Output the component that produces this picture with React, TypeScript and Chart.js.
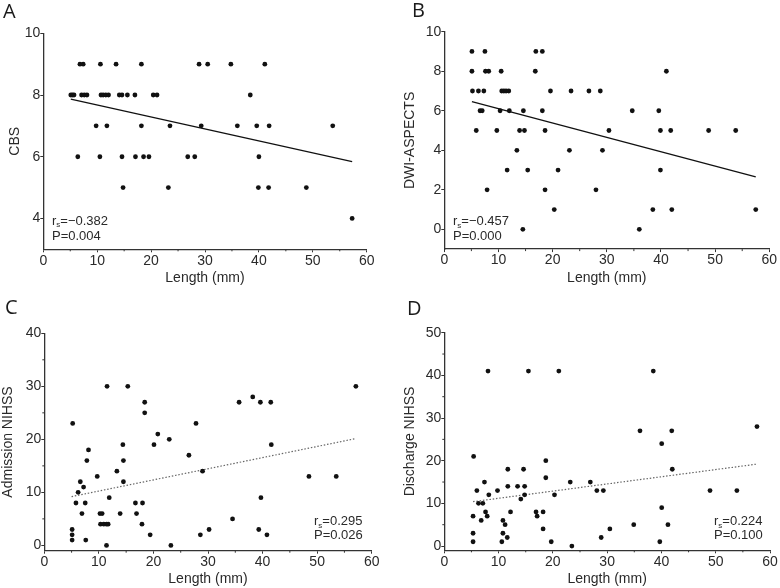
import React, { useEffect, useRef } from "react";
import { Chart, registerables } from "chart.js";

Chart.register(...registerables);

// ---------- shared axis values ----------
const xTickValues = [0, 10, 20, 30, 40, 50, 60];
const xMinorValues = [5, 15, 25, 35, 45, 55];

// ---------- Panel A: CBS ----------
const aLength = [
  6.8, 7.4, 10.6, 13.5, 18.2, 28.9, 30.5, 34.8, 41.1,
  5.1, 5.4, 5.7, 7.1, 7.6, 8.1, 10.7, 11.1, 11.6, 12.1, 14.1, 14.6, 15.6, 17.0, 20.4, 21.1, 38.4,
  9.8, 11.8, 18.2, 23.5, 29.3, 36.0, 39.6, 41.9, 53.7,
  6.4, 10.5, 14.6, 17.1, 18.6, 19.6, 26.8, 28.1, 40.0,
  14.8, 23.2, 39.9, 41.8, 48.8,
  57.3,
];
const aCBS = [
  9, 9, 9, 9, 9, 9, 9, 9, 9,
  8, 8, 8, 8, 8, 8, 8, 8, 8, 8, 8, 8, 8, 8, 8, 8, 8,
  7, 7, 7, 7, 7, 7, 7, 7, 7,
  6, 6, 6, 6, 6, 6, 6, 6, 6,
  5, 5, 5, 5, 5,
  4,
];
const aTrendX = [5.1, 57.3];
const aTrendY = [7.87, 5.84];
const aYTicks = [4, 6, 8, 10];

// ---------- Panel B: DWI-ASPECTS ----------
const bLength = [
  5.1, 7.5, 16.9, 18.1,
  5.1, 7.6, 8.2, 10.5, 16.8, 41.0,
  5.2, 6.3, 7.3, 10.6, 11.0, 11.4, 11.9, 19.6, 23.4, 26.7, 28.8,
  6.6, 7.0, 10.3, 12.0, 14.6, 18.1, 34.7, 39.6,
  5.9, 9.7, 13.9, 14.8, 18.6, 30.4, 39.9, 41.8, 48.8, 53.8,
  13.4, 23.1, 29.2,
  11.6, 15.4, 21.0, 39.9,
  7.9, 18.6, 28.0,
  20.3, 38.5, 42.0, 57.5,
  14.5, 36.0,
];
const bASPECTS = [
  9, 9, 9, 9,
  8, 8, 8, 8, 8, 8,
  7, 7, 7, 7, 7, 7, 7, 7, 7, 7, 7,
  6, 6, 6, 6, 6, 6, 6, 6,
  5, 5, 5, 5, 5, 5, 5, 5, 5, 5,
  4, 4, 4,
  3, 3, 3, 3,
  2, 2, 2,
  1, 1, 1, 1,
  0, 0,
];
const bTrendX = [5.1, 57.5];
const bTrendY = [6.46, 2.66];
const bYTicks = [0, 2, 4, 6, 8, 10];

// ---------- Panel C: Admission NIHSS ----------
const cLength = [
  11.5, 15.3, 18.4, 18.4, 5.2, 20.8, 20.1, 14.4, 8.1, 7.8, 14.5, 13.3, 9.7,
  6.6, 14.5, 7.2, 6.2, 11.9, 5.8, 7.5, 16.7, 18.0, 6.9, 10.2, 10.6, 13.9,
  16.9, 10.3, 10.9, 11.4, 11.7, 17.9, 5.1, 5.1, 19.4, 5.1, 7.6, 11.4,
  57.1, 38.2, 35.7, 39.6, 41.5, 27.8, 22.9, 41.6, 26.5, 29.0, 48.5, 53.5,
  39.7, 34.5, 30.2, 39.3, 28.6, 40.8, 23.2,
];
const cNIHSS = [
  30, 30, 27, 25, 23, 21, 19, 19, 18, 16, 16, 14, 13,
  12, 12, 11, 10, 9, 8, 8, 8, 8, 6, 6, 6, 6,
  6, 4, 4, 4, 4, 4, 3, 2, 2, 1, 1, 0,
  30, 28, 27, 27, 27, 23, 20, 19, 17, 14, 13, 13,
  9, 5, 3, 3, 2, 2, 0,
];
const cTrendX = [5.0, 57.1];
const cTrendY = [9.2, 20.15];
const cYTicks = [0, 10, 20, 30, 40];
const cYMinor = [5, 15, 25, 35];

// ---------- Panel D: Discharge NIHSS ----------
const dLength = [
  8.05, 15.5, 21.1, 5.4, 18.7, 11.7, 14.6, 18.7, 7.4, 11.7, 13.5, 14.8,
  6.0, 9.8, 8.2, 14.8, 20.3, 14.1, 6.3, 7.1, 7.6, 12.2, 16.9, 18.2, 5.3,
  7.9, 17.1, 6.8, 10.8, 11.2, 18.2, 5.3, 10.8, 11.6, 5.3, 10.6, 19.7,
  38.5, 57.6, 36.05, 41.9, 40.05, 42.0, 23.2, 26.9, 28.1, 29.3, 48.95, 53.9,
  40.05, 34.9, 41.2, 30.5, 28.9, 39.7, 23.5,
];
const dNIHSS = [
  41, 41, 41, 21, 20, 18, 18, 16, 15, 14, 14, 14,
  13, 13, 12, 12, 12, 11, 10, 10, 8, 8, 8, 8, 7,
  7, 7, 6, 6, 5, 4, 3, 3, 2, 1, 1, 1,
  41, 28, 27, 27, 24, 18, 15, 15, 13, 13, 13, 13,
  9, 5, 5, 4, 2, 1, 0,
];
const dTrendX = [5.3, 57.6];
const dTrendY = [10.4, 19.2];
const dYTicks = [0, 10, 20, 30, 40, 50];
const dYMinor = [5, 15, 25, 35, 45];

// ---------- styling ----------
const FONT = '"Liberation Sans", Arial, sans-serif';
const AXIS_COLOR = "#333";
const TEXT_COLOR = "#2a2a2a";
const DOT_COLOR = "#111";

type Panel = {
  key: string;
  letter: string;
  letterX: number;
  letterY: number;
  xs: number[];
  ys: number[];
  trendX: number[];
  trendY: number[];
  dotted: boolean;
  yMin: number;
  yMax: number;
  yTicks: number[];
  yMinor: number[];
  yTitle: string;
  yTitlePad: number;
  xTitlePad: number;
  left: number;
  top: number;
  width: number;
  height: number;
  area: { left: number; right: number; top: number; bottom: number };
  rs: string;
  p: string;
  noteX: number;
  noteY1: number;
  noteY2: number;
};

const panels: Panel[] = [
  {
    key: "A", letter: "A", letterX: 3, letterY: 18,
    xs: aLength, ys: aCBS, trendX: aTrendX, trendY: aTrendY, dotted: false,
    yMin: 3, yMax: 10, yTicks: aYTicks, yMinor: [], yTitle: "CBS",
    yTitlePad: 6.6, xTitlePad: 3.3,
    left: 0, top: 0, width: 390, height: 290,
    area: { left: 43.3, right: 366.7, top: 33.3, bottom: 249.3 },
    rs: "\u22120.382", p: "0.004", noteX: 52, noteY1: 224.5, noteY2: 239.5,
  },
  {
    key: "B", letter: "B", letterX: 22, letterY: 17,
    xs: bLength, ys: bASPECTS, trendX: bTrendX, trendY: bTrendY, dotted: false,
    yMin: -1, yMax: 10, yTicks: bYTicks, yMinor: [], yTitle: "DWI-ASPECTS",
    yTitlePad: 11.6, xTitlePad: 3.3,
    left: 390, top: 0, width: 390, height: 290,
    area: { left: 54.3, right: 379.3, top: 31.7, bottom: 249.1 },
    rs: "\u22120.457", p: "0.000", noteX: 63, noteY1: 225, noteY2: 239.5,
  },
  {
    key: "C", letter: "C", letterX: 5, letterY: 23.5,
    xs: cLength, ys: cNIHSS, trendX: cTrendX, trendY: cTrendY, dotted: true,
    yMin: -1, yMax: 40, yTicks: cYTicks, yMinor: cYMinor, yTitle: "Admission NIHSS",
    yTitlePad: 0, xTitlePad: 0,
    left: 0, top: 290, width: 390, height: 298,
    area: { left: 44.3, right: 371.7, top: 43.3, bottom: 260.7 },
    rs: "0.295", p: "0.026", noteX: 314, noteY1: 235, noteY2: 249.3,
  },
  {
    key: "D", letter: "D", letterX: 17, letterY: 25,
    xs: dLength, ys: dNIHSS, trendX: dTrendX, trendY: dTrendY, dotted: true,
    yMin: -1, yMax: 50, yTicks: dYTicks, yMinor: dYMinor, yTitle: "Discharge NIHSS",
    yTitlePad: 11.6, xTitlePad: 0,
    left: 390, top: 290, width: 390, height: 298,
    area: { left: 54.3, right: 380, top: 42.7, bottom: 260.3 },
    rs: "0.224", p: "0.100", noteX: 324, noteY1: 235, noteY2: 249.3,
  },
];

const overlayPlugin = {
  id: "overlay",
  afterDraw(chart: any, _args: any, opts: any) {
    const ctx = chart.ctx as CanvasRenderingContext2D;
    const xs = chart.scales.x;
    const ys = chart.scales.y;
    ctx.save();
    ctx.strokeStyle = AXIS_COLOR;
    ctx.lineWidth = 1;
    for (const v of opts.xMinor as number[]) {
      const px = xs.getPixelForValue(v);
      ctx.beginPath();
      ctx.moveTo(px, xs.top);
      ctx.lineTo(px, xs.top + 2);
      ctx.stroke();
    }
    for (const v of opts.yMinor as number[]) {
      const py = ys.getPixelForValue(v);
      ctx.beginPath();
      ctx.moveTo(ys.right, py);
      ctx.lineTo(ys.right - 2, py);
      ctx.stroke();
    }
    // panel letter
    ctx.fillStyle = "#1a1a1a";
    ctx.textAlign = "left";
    ctx.textBaseline = "alphabetic";
    ctx.font = '20px "Open Sans", sans-serif';
    ctx.fillText(opts.letter, opts.letterX, opts.letterY);
    // statistics note
    ctx.fillStyle = TEXT_COLOR;
    ctx.font = "13px " + FONT;
    let x = opts.noteX;
    ctx.fillText("r", x, opts.noteY1);
    x += ctx.measureText("r").width;
    ctx.font = "8px " + FONT;
    ctx.fillText("s", x, opts.noteY1 + 2.5);
    x += ctx.measureText("s").width;
    ctx.font = "13px " + FONT;
    ctx.fillText("=" + opts.rs, x, opts.noteY1);
    ctx.fillText("P=" + opts.p, opts.noteX, opts.noteY2);
    ctx.restore();
  },
};

function PanelChart({ panel }: { panel: Panel }) {
  const ref = useRef<HTMLCanvasElement | null>(null);
  useEffect(() => {
    if (!ref.current) return;
    const p = panel;
    const points = p.xs.map((x, i) => ({ x, y: p.ys[i] }));
    const trend = p.trendX.map((x, i) => ({ x, y: p.trendY[i] }));
    const tickFont = { family: FONT, size: 14 };
    const gridOpts = {
      display: true,
      drawOnChartArea: false,
      drawTicks: true,
      tickLength: 3,
      tickColor: AXIS_COLOR,
      tickWidth: 1,
    };
    const borderOpts = { display: true, color: AXIS_COLOR, width: 1.3 };
    const chart = new Chart(ref.current, {
      type: "scatter",
      data: {
        datasets: [
          {
            data: trend,
            showLine: true,
            borderColor: p.dotted ? "#666" : "#111",
            borderWidth: p.dotted ? 1.2 : 1.3,
            borderDash: p.dotted ? [1.5, 1.8] : [],
            pointRadius: 0,
            fill: false,
            order: 2,
          } as any,
          {
            data: points,
            showLine: false,
            pointRadius: 2.4,
            pointBackgroundColor: DOT_COLOR,
            pointBorderWidth: 0,
            pointHoverRadius: 2.4,
            order: 1,
          } as any,
        ],
      },
      options: {
        responsive: false,
        maintainAspectRatio: false,
        animation: false,
        events: [],
        layout: {
          padding: {
            left: 0,
            top: p.area.top,
            right: p.width - p.area.right,
            bottom: 0,
          },
        },
        plugins: {
          legend: { display: false },
          tooltip: { enabled: false },
          title: { display: false },
          overlay: {
            letter: p.letter,
            letterX: p.letterX,
            letterY: p.letterY,
            xMinor: xMinorValues,
            yMinor: p.yMinor,
            rs: p.rs,
            p: p.p,
            noteX: p.noteX,
            noteY1: p.noteY1,
            noteY2: p.noteY2,
          },
        } as any,
        scales: {
          x: {
            type: "linear",
            min: 0,
            max: 60,
            afterBuildTicks: (s: any) => {
              s.ticks = xTickValues.map((v) => ({ value: v }));
            },
            afterFit: (s: any) => {
              s.height = p.height - p.area.bottom;
            },
            border: borderOpts,
            grid: gridOpts,
            ticks: {
              font: tickFont,
              color: TEXT_COLOR,
              padding: 0,
              maxRotation: 0,
              autoSkip: false,
            },
            title: {
              display: true,
              text: "Length (mm)",
              font: tickFont,
              color: TEXT_COLOR,
              padding: { top: 0, bottom: p.xTitlePad },
            },
          },
          y: {
            type: "linear",
            min: p.yMin,
            max: p.yMax,
            afterBuildTicks: (s: any) => {
              s.ticks = p.yTicks.map((v) => ({ value: v }));
            },
            afterFit: (s: any) => {
              s.width = p.area.left;
            },
            border: borderOpts,
            grid: gridOpts,
            ticks: {
              font: tickFont,
              color: TEXT_COLOR,
              padding: 0,
              autoSkip: false,
            },
            title: {
              display: true,
              text: p.yTitle,
              font: tickFont,
              color: TEXT_COLOR,
              padding: { top: p.yTitlePad, bottom: 0 },
            },
          },
        },
      },
      plugins: [overlayPlugin],
    } as any);
    return () => chart.destroy();
  }, [panel]);

  return (
    <canvas
      ref={ref}
      width={panel.width}
      height={panel.height}
      style={{
        position: "absolute",
        left: panel.left,
        top: panel.top,
        width: panel.width,
        height: panel.height,
      }}
    />
  );
}

export default function App() {
  return (
    <div
      style={{
        position: "absolute",
        left: 0,
        top: 0,
        width: 780,
        height: 588,
        background: "#fff",
        overflow: "hidden",
      }}
    >
      {panels.map((p) => (
        <PanelChart key={p.key} panel={p} />
      ))}
    </div>
  );
}
